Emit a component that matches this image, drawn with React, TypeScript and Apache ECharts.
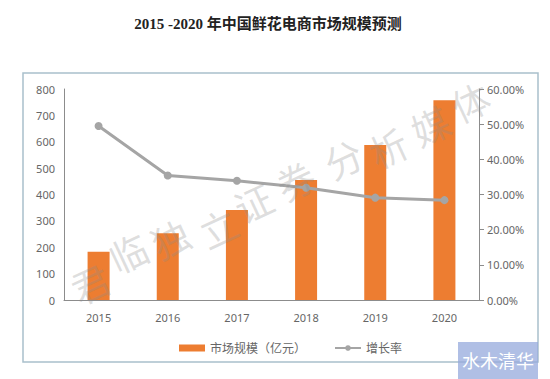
import React, { useEffect, useRef } from "react";
import * as echarts from "echarts";

const categories = ["2015", "2016", "2017", "2018", "2019", "2020"];
const marketSize = [183, 253, 341, 455, 588, 757];
const growthRate = [49.5, 35.4, 33.9, 31.9, 29.1, 28.4];
const leftTicks = [0, 100, 200, 300, 400, 500, 600, 700, 800];

const watermarkChars = ["君", "临", "独", "立", "证", "券", "分", "析", "媒", "体"];
const watermarkPos: [number, number][] = [
  [90, 283], [128, 252], [170, 238], [218, 227], [253, 202],
  [295, 180], [343, 158], [388, 147], [430, 125], [470, 101],
];

export default function App() {
  const ref = useRef<HTMLDivElement>(null);
  useEffect(() => {
    const chart = echarts.init(ref.current!, null, { renderer: "svg" });
    const labelColor = "#666666";
    const font = "'Noto Sans', 'Noto Sans CJK SC', sans-serif";
    const watermark = watermarkChars.map((ch, i) => ({
      type: "text",
      x: watermarkPos[i][0],
      y: watermarkPos[i][1],
      rotation: (25 * Math.PI) / 180,
      style: {
        text: ch,
        fontSize: 38,
        fontFamily: "'Noto Sans CJK SC', sans-serif",
        fill: "rgba(140,140,140,0.28)",
        align: "center",
        verticalAlign: "middle",
      },
      z: 100,
      silent: true,
    }));
    chart.setOption({
      animation: false,
      backgroundColor: "#ffffff",
      title: {
        text: "2015 -2020 年中国鲜花电商市场规模预测",
        left: 263,
        top: 11,
        textAlign: "center",
        textStyle: {
          fontFamily: "'Liberation Serif', 'Noto Sans CJK SC', serif",
          fontWeight: "bold",
          fontSize: 15,
          color: "#222222",
        },
      },
      graphic: [
        {
          type: "rect",
          shape: { x: 23, y: 73, width: 515, height: 289 },
          style: { fill: "none", stroke: "#a9c0cc", lineWidth: 1.5 },
          silent: true,
        },
        ...watermark,
        {
          type: "rect",
          shape: { x: 458, y: 342, width: 80, height: 37 },
          style: { fill: "rgba(150,170,220,0.75)" },
          z: 100,
          silent: true,
        },
        {
          type: "text",
          x: 498,
          y: 360,
          style: {
            text: "水木清华",
            fontSize: 18,
            fontFamily: "'Noto Sans CJK SC', sans-serif",
            fill: "#ffffff",
            align: "center",
            verticalAlign: "middle",
          },
          z: 101,
          silent: true,
        },
      ],
      legend: {
        left: 174,
        top: 337,
        itemGap: 28,
        itemWidth: 26,
        itemHeight: 7,
        textStyle: { color: labelColor, fontSize: 12, fontFamily: font },
        data: [
          { name: "市场规模（亿元）", icon: "rect" },
          { name: "增长率" },
        ],
      },
      grid: { left: 64, right: 71, top: 89, bottom: 79 },
      xAxis: {
        type: "category",
        data: categories,
        axisLine: { lineStyle: { color: "#8c8c8c", width: 1 } },
        axisTick: { show: false },
        axisLabel: { color: labelColor, fontSize: 11, fontFamily: font, margin: 12 },
      },
      yAxis: [
        {
          type: "value",
          min: leftTicks[0],
          max: leftTicks[leftTicks.length - 1],
          interval: 100,
          axisLine: { show: true, lineStyle: { color: "#8c8c8c" } },
          axisTick: { show: false },
          splitLine: { show: false },
          axisLabel: { color: labelColor, fontSize: 11, fontFamily: font, margin: 9 },
        },
        {
          type: "value",
          min: 0,
          max: 60,
          interval: 10,
          position: "right",
          axisLine: { show: true, lineStyle: { color: "#8c8c8c" } },
          axisTick: { show: true, length: 5, lineStyle: { color: "#8c8c8c" } },
          splitLine: { show: false },
          axisLabel: {
            color: labelColor,
            fontSize: 11,
            fontFamily: font,
            margin: 8,
            formatter: (v: number) => v.toFixed(2) + "%",
          },
        },
      ],
      series: [
        {
          name: "市场规模（亿元）",
          type: "bar",
          data: marketSize,
          barWidth: 22,
          itemStyle: { color: "#ed7d31" },
        },
        {
          name: "增长率",
          type: "line",
          yAxisIndex: 1,
          data: growthRate,
          symbol: "circle",
          symbolSize: 8,
          lineStyle: { color: "#a5a5a5", width: 3 },
          itemStyle: { color: "#a5a5a5" },
        },
      ],
    });
    return () => chart.dispose();
  }, []);
  return (
    <div
      ref={ref}
      style={{ position: "fixed", left: 0, top: 0, width: 550, height: 379 }}
    />
  );
}
